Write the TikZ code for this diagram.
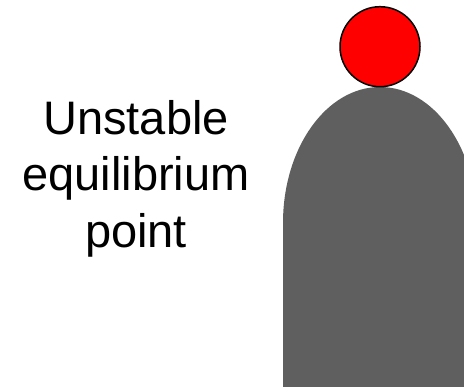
\documentclass[tikz,border=0pt]{standalone}
\usepackage{fontspec}
\setmainfont{Liberation Sans}
\definecolor{hillgray}{RGB}{95,95,95}
\definecolor{ballred}{RGB}{255,0,0}
\tikzset{
  label/.style={font=\fontsize{47}{56}\selectfont, anchor=base, inner sep=0pt, text=black},
  hill/.style={fill=hillgray, draw=none},
  ball/.style={circle, fill=ballred, draw=black, line width=1.5pt, minimum size=80pt, inner sep=0pt}
}
\begin{document}
\begin{tikzpicture}[x=1pt,y=-1pt]
\useasboundingbox (0,0) rectangle (464,387);
\clip (0,0) rectangle (464,387);
\fill[white] (0,0) rectangle (464,387);
\path[hill] (283,390) -- (283,223) arc[start angle=180, end angle=0, x radius=97, y radius=-136] -- (477,390) -- cycle;
\node[ball] (b) at (380,46.7) {};
\node[label] (l1) at (136,135) {Unstable};
\node[label] (l2) at (136,191) {equilibrium};
\node[label] (l3) at (136,247.3) {point};
\end{tikzpicture}
\end{document}
